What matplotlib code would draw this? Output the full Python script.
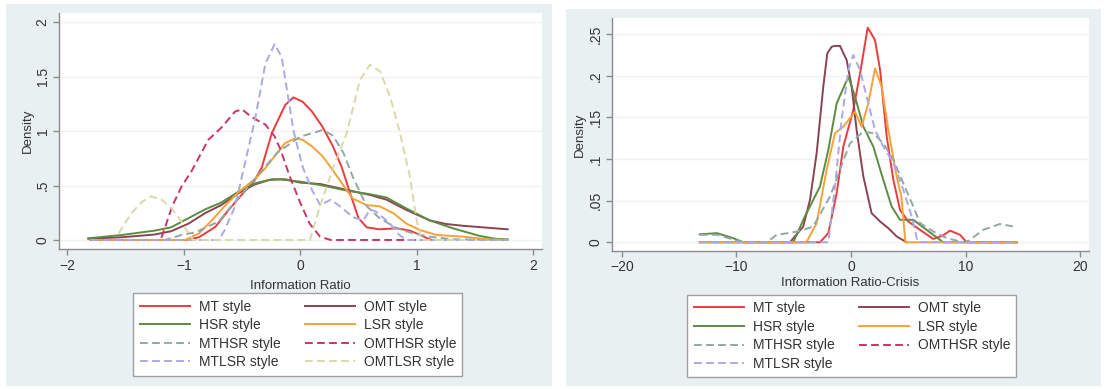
import matplotlib
matplotlib.use('Agg')
import matplotlib.pyplot as plt
from matplotlib.patches import Rectangle

plt.rcParams['font.family'] = ['Liberation Sans', 'DejaVu Sans']

# ---- left panel: Information Ratio ----
mt_x = [-1.8, -0.97, -0.87, -0.73, -0.62, -0.5, -0.39, -0.33, -0.245, -0.13, -0.06, 0.02, 0.1, 0.19,
        0.28, 0.355, 0.427, 0.5, 0.57, 0.68, 0.83, 0.94, 1.03, 1.1, 1.13]
mt_y = [0, 0, 0.025, 0.12, 0.27, 0.42, 0.55, 0.67, 0.98, 1.24, 1.31, 1.27, 1.18, 1.04,
        0.86, 0.67, 0.43, 0.2, 0.116, 0.098, 0.107, 0.086, 0.046, 0.01, 0]
omt_x = [-1.82, -1.53, -1.25, -1.11, -0.96, -0.82, -0.68, -0.53, -0.39, -0.25, -0.13, 0.0, 0.17,
         0.40, 0.60, 0.74, 0.91, 1.11, 1.25, 1.4, 1.6, 1.78]
omt_y = [0.012, 0.025, 0.05, 0.08, 0.15, 0.245, 0.32, 0.43, 0.51, 0.557, 0.557, 0.527, 0.514,
         0.46, 0.413, 0.37, 0.276, 0.18, 0.147, 0.13, 0.113, 0.098]
hsr_x = [-1.82, -1.53, -1.25, -1.11, -0.96, -0.82, -0.68, -0.53, -0.39, -0.275, -0.174, 0.0, 0.17,
         0.40, 0.60, 0.74, 0.91, 1.11, 1.31, 1.54, 1.68, 1.78]
hsr_y = [0.015, 0.046, 0.086, 0.116, 0.2, 0.28, 0.343, 0.444, 0.52, 0.55, 0.557, 0.536, 0.505,
         0.453, 0.42, 0.39, 0.29, 0.18, 0.107, 0.037, 0.01, 0.006]
lsr_x = [-1.8, -0.99, -0.87, -0.76, -0.65, -0.53, -0.39, -0.3, -0.22, -0.13, -0.045, 0.02, 0.1,
         0.19, 0.28, 0.37, 0.45, 0.57, 0.68, 0.8, 0.91, 1.03, 1.17, 1.4, 1.6, 1.78]
lsr_y = [0, 0, 0.06, 0.18, 0.31, 0.44, 0.56, 0.66, 0.77, 0.89, 0.934, 0.92, 0.86,
         0.77, 0.64, 0.5, 0.38, 0.32, 0.31, 0.245, 0.15, 0.09, 0.046, 0.03, 0.006, 0]
mthsr_x = [-1.8, -1.16, -1.02, -0.9, -0.7, -0.6, -0.4, -0.2, 0.0, 0.1, 0.19, 0.28, 0.37, 0.45,
           0.57, 0.68, 0.83, 0.97, 1.11, 1.31, 1.78]
mthsr_y = [0, 0, 0.046, 0.07, 0.17, 0.3, 0.55, 0.8, 0.95, 0.98, 1.01, 0.96, 0.8, 0.58,
           0.31, 0.2, 0.107, 0.06, 0.03, 0.006, 0]
omthsr_x = [-1.8, -1.2, -1.16, -1.1, -1.02, -0.93, -0.79, -0.68, -0.56, -0.5, -0.42, -0.3, -0.22,
            -0.17, -0.09, 0.0, 0.08, 0.17, 0.26, 1.05]
omthsr_y = [0, 0, 0.12, 0.31, 0.49, 0.64, 0.92, 1.03, 1.18, 1.2, 1.13, 1.06, 0.95,
            0.83, 0.58, 0.34, 0.15, 0.03, 0, 0]
mtlsr_x = [-1.8, -0.7, -0.65, -0.56, -0.47, -0.39, -0.3, -0.22, -0.16, -0.11, -0.06, 0.02, 0.1,
           0.17, 0.26, 0.34, 0.45, 0.54, 0.6, 0.65, 0.77, 0.85, 0.91, 1.78]
mtlsr_y = [0, 0, 0.09, 0.31, 0.73, 1.1, 1.62, 1.8, 1.68, 1.35, 1.01, 0.67, 0.46,
           0.32, 0.37, 0.31, 0.21, 0.18, 0.28, 0.26, 0.15, 0.046, 0, 0]
omtlsr_x = [-1.56, -1.45, -1.36, -1.28, -1.19, -1.105, -1.02, -0.96, -0.92, 0.083, 0.169, 0.284,
            0.398, 0.512, 0.598, 0.684, 0.77, 0.856, 0.941, 0.999, 1.04, 1.4]
omtlsr_y = [0.06, 0.245, 0.35, 0.4, 0.37, 0.29, 0.17, 0.06, 0, 0, 0.31, 0.67,
            0.98, 1.47, 1.61, 1.55, 1.32, 0.98, 0.58, 0.18, 0, 0]

# ---- right panel: Information Ratio-Crisis ----
mt_c_x = [-13.2, -2.71, -1.98, -1.25, -0.67, 0.2, 0.79, 1.46, 2.1, 2.54, 3.12, 3.7, 4.28, 5.0,
          6.03, 7.19, 8.0, 8.65, 9.52, 10.1, 14.5]
mt_c_y = [0, 0, 0.011, 0.059, 0.115, 0.159, 0.203, 0.258, 0.243, 0.207, 0.127, 0.075, 0.039, 0.025,
          0.015, 0.004, 0.008, 0.014, 0.009, 0, 0]
omt_c_x = [-5.33, -4.17, -3.58, -3.0, -2.42, -2.07, -1.69, -1.4, -0.96, -0.38, 0.06, 0.49, 1.08,
           1.8, 2.54, 3.26, 3.99, 4.86]
omt_c_y = [0, 0.019, 0.051, 0.107, 0.187, 0.227, 0.235, 0.236, 0.236, 0.219, 0.187, 0.135, 0.079,
           0.035, 0.025, 0.017, 0.007, 0]
hsr_c_x = [-13.2, -11.7, -10.3, -9.4, -5.04, -4.03, -2.71, -1.98, -1.25, -0.23, 0.35, 1.08, 1.95,
           2.82, 3.55, 4.28, 5.44, 6.6, 7.77, 8.0, 14.5]
hsr_c_y = [0.0096, 0.011, 0.005, 0, 0, 0.031, 0.067, 0.111, 0.167, 0.199, 0.175, 0.139, 0.115,
           0.075, 0.043, 0.027, 0.027, 0.015, 0.003, 0, 0]
lsr_c_x = [-13.2, -3.89, -3.0, -2.13, -1.4, -0.67, 0.35, 0.93, 1.51, 2.1, 2.68, 3.26, 3.99, 4.4,
           4.75, 14.5]
lsr_c_y = [0, 0, 0.023, 0.087, 0.131, 0.139, 0.157, 0.139, 0.167, 0.209, 0.187, 0.135, 0.079, 0.055,
           0, 0]
mthsr_c_x = [-13.2, -11.7, -9.7, -9.4, -7.36, -6.49, -5.04, -4.16, -3.3, -1.83, -0.96, -0.09, 1.08,
             1.95, 2.82, 3.7, 4.57, 5.44, 6.03, 7.19, 8.36, 9.81, 10.3, 11.55, 13.0, 14.2]
mthsr_c_y = [0.009, 0.009, 0.001, 0, 0, 0.009, 0.012, 0.015, 0.019, 0.055, 0.087, 0.119, 0.133,
             0.131, 0.119, 0.099, 0.071, 0.043, 0.023, 0.013, 0.005, 0, 0.002, 0.015, 0.022, 0.019]
mtlsr_c_x = [-13.2, -1.98, -1.4, -0.82, -0.23, 0.2, 0.79, 1.51, 2.1, 2.82, 3.55, 4.0, 4.57, 5.3,
             5.74, 5.9, 14.5]
mtlsr_c_y = [0, 0, 0.067, 0.147, 0.207, 0.225, 0.207, 0.167, 0.135, 0.115, 0.099, 0.085, 0.063, 0.031,
             0.005, 0, 0]

dash = (0, (4, 2.2))
styles = {
    'MT style': dict(color='#ee3a3c', ls='-'),
    'OMT style': dict(color='#8b4352', ls='-'),
    'HSR style': dict(color='#5e8b42', ls='-'),
    'LSR style': dict(color='#f5a236', ls='-'),
    'MTHSR style': dict(color='#93a7a6', ls=dash),
    'OMTHSR style': dict(color='#cb3560', ls=dash),
    'MTLSR style': dict(color='#a9a9e6', ls=dash),
    'OMTLSR style': dict(color='#d9d9ab', ls=dash),
}
legend_order = ['MT style', 'HSR style', 'MTHSR style', 'MTLSR style',
                'OMT style', 'LSR style', 'OMTHSR style', 'OMTLSR style']

W, H = 1107, 389
fig = plt.figure(figsize=(W / 100, H / 100), dpi=100)
fig.patch.set_facecolor('white')
panel_col = '#e9f0f2'
fig.patches.append(Rectangle((6 / W, 1 - 386 / H), 546 / W, 382 / H, transform=fig.transFigure,
                             facecolor=panel_col, edgecolor='none', zorder=-10))
fig.patches.append(Rectangle((566 / W, 1 - 386 / H), 535 / W, 377 / H, transform=fig.transFigure,
                             facecolor=panel_col, edgecolor='none', zorder=-10))


def style_axes(ax, xticks, yticks, ylabels, xlabel, xpad):
    ax.set_facecolor('white')
    for s in ['top', 'right']:
        ax.spines[s].set_visible(False)
    for s in ['left', 'bottom']:
        ax.spines[s].set_color('#8c8c8c')
        ax.spines[s].set_linewidth(1)
    ax.set_xticks(xticks)
    ax.set_yticks(yticks)
    ax.set_yticklabels(ylabels, rotation=90, va='center')
    ax.tick_params(colors='#8c8c8c', labelcolor='#333333', labelsize=10, length=4, width=1, pad=3)
    ax.yaxis.grid(True, color='#f0f2f2', lw=1)
    ax.set_axisbelow(True)
    ax.set_xlabel(xlabel, fontsize=9.5, color='#333333', labelpad=xpad)
    ax.set_ylabel('Density', fontsize=9.5, color='#333333', labelpad=1.5)


def add_legend(ax, handles, x0, y0):
    hs = [handles[k] for k in legend_order if k in handles]
    labs = [k for k in legend_order if k in handles]
    leg = fig.legend(hs, labs, loc='upper left', bbox_to_anchor=(x0 / W, 1 - y0 / H), ncol=2,
                     fontsize=10, handlelength=3.6, handletextpad=0.65, columnspacing=1.75,
                     labelspacing=0.33, borderpad=0.45, borderaxespad=0, fancybox=False,
                     framealpha=1, edgecolor='#a0a0a0')
    leg.get_frame().set_linewidth(1)
    for t in leg.get_texts():
        t.set_color('#333333')


# left
ax1 = fig.add_axes([59.3 / W, 1 - 249 / H, (541.7 - 59.3) / W, (249 - 12.7) / H])
left_data = [('MT style', mt_x, mt_y), ('OMT style', omt_x, omt_y), ('HSR style', hsr_x, hsr_y),
             ('LSR style', lsr_x, lsr_y), ('MTHSR style', mthsr_x, mthsr_y),
             ('OMTHSR style', omthsr_x, omthsr_y), ('MTLSR style', mtlsr_x, mtlsr_y),
             ('OMTLSR style', omtlsr_x, omtlsr_y)]
h1 = {}
for name, xs, ys in left_data:
    st = styles[name]
    h1[name], = ax1.plot(xs, ys, color=st['color'], linestyle=st['ls'], lw=1.4, label=name)
ax1.set_xlim(-2.069, 2.072)
ax1.set_ylim(-0.083, 2.088)
style_axes(ax1, [-2, -1, 0, 1, 2], [0, 0.5, 1, 1.5, 2], ['0', '.5', '1', '1.5', '2'],
           'Information Ratio', 5)
add_legend(ax1, h1, 133.3, 293.3)

# right
ax2 = fig.add_axes([612 / W, 1 - 250.7 / H, (1088.5 - 612) / W, (250.7 - 18.3) / H])
right_data = [('MT style', mt_c_x, mt_c_y), ('OMT style', omt_c_x, omt_c_y),
              ('HSR style', hsr_c_x, hsr_c_y), ('LSR style', lsr_c_x, lsr_c_y),
              ('MTHSR style', mthsr_c_x, mthsr_c_y), ('OMTHSR style', [], []),
              ('MTLSR style', mtlsr_c_x, mtlsr_c_y)]
h2 = {}
for name, xs, ys in right_data:
    st = styles[name]
    h2[name], = ax2.plot(xs, ys, color=st['color'], linestyle=st['ls'], lw=1.4, label=name)
ax2.set_xlim(-20.87, 20.74)
ax2.set_ylim(-0.0101, 0.2692)
style_axes(ax2, [-20, -10, 0, 10, 20], [0, 0.05, 0.1, 0.15, 0.2, 0.25],
           ['0', '.05', '.1', '.15', '.2', '.25'], 'Information Ratio-Crisis', 1.5)
add_legend(ax2, h2, 687.3, 295)

fig.savefig('out.png', dpi=100)
